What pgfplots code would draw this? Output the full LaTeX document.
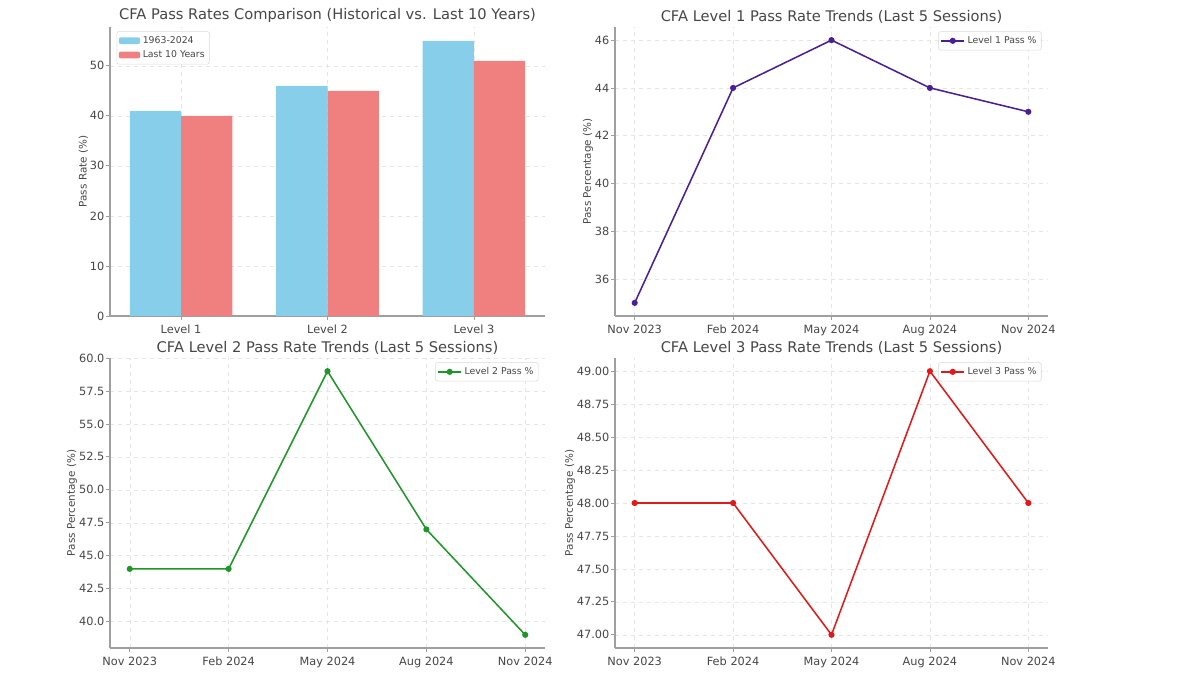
\documentclass[border=0pt]{standalone}
\usepackage{pgfplots}
\pgfplotsset{compat=1.18}
\usepackage{fontspec}
\setmainfont{DejaVu Sans}

\definecolor{skyb}{RGB}{135,206,235}
\definecolor{lcoral}{RGB}{240,128,128}
\definecolor{lvlone}{RGB}{75,30,150}
\definecolor{lvltwo}{RGB}{30,150,40}
\definecolor{lvlthree}{RGB}{225,25,25}
\definecolor{txt}{RGB}{70,70,70}

\pgfplotsset{
  panel/.style={
    scale only axis,
    anchor=south west,
    axis lines*=left,
    axis line style={-, draw=gray!75, line width=0.8pt},
    tick align=outside,
    major tick length=3pt,
    tick style={gray!75, line width=0.6pt},
    xtick pos=bottom, ytick pos=left,
    grid=major,
    major grid style={gray!20, dashed, line width=0.4pt},
    /pgf/number format/assume math mode=true,
    tick label style={font=\fontsize{8.5}{10}\selectfont, text=txt},
    yticklabel style={inner xsep=1pt},
    label style={font=\fontsize{7.8}{9}\selectfont, text=txt},
    ylabel style={yshift=-3pt},
    title style={font=\fontsize{11}{13}\selectfont, text=txt, yshift=-6.5pt},
    legend style={draw=gray!30, rounded corners=1.5pt, fill=white,
      font=\fontsize{7}{8.5}\selectfont, text=txt,
      at={(0.985,0.985)}, anchor=north east, inner sep=1.5pt},
    legend cell align=left,
  },
  trend/.style={
    xmin=-0.2, xmax=4.2,
    xtick={0,1,2,3,4},
    xticklabels={Nov 2023, Feb 2024, May 2024, Aug 2024, Nov 2024},
    ylabel={Pass Percentage (\%)},
  },
}

\begin{document}
\begin{tikzpicture}
\path[use as bounding box] (0,0) rectangle (900pt,506.25pt);

% Top left: bar comparison
\begin{axis}[panel,
  at={(82.5pt,269.25pt)}, width=326.25pt, height=216.75pt,
  title={CFA Pass Rates Comparison (Historical vs. Last 10 Years)},
  ylabel={Pass Rate (\%)},
  xmin=-0.485, xmax=2.485, ymin=0, ymax=57.75,
  xtick={0,1,2}, xticklabels={Level 1, Level 2, Level 3},
  ytick={0,10,20,30,40,50},
  legend style={at={(0.015,0.985)}, anchor=north west},
  legend image code/.code={\fill[#1] (0pt,-2.5pt) rectangle (16pt,2.5pt);},
]
\addplot[ybar, bar width=0.35, bar shift=-0.175, fill=skyb, draw=none]
  coordinates {(0,41) (1,46) (2,55)};
\addlegendentry{1963-2024}
\addplot[ybar, bar width=0.35, bar shift=0.175, fill=lcoral, draw=none]
  coordinates {(0,40) (1,45) (2,51)};
\addlegendentry{Last 10 Years}
\end{axis}

% Top right: Level 1
\begin{axis}[panel, trend,
  at={(461.25pt,269.25pt)}, width=324.75pt, height=216.75pt,
  title={CFA Level 1 Pass Rate Trends (Last 5 Sessions)},
  ymin=34.45, ymax=46.55,
  ytick={36,38,40,42,44,46},
]
\addplot[lvlone, line width=1.15pt, mark=*, mark size=1.7pt]
  coordinates {(0,35) (1,44) (2,46) (3,44) (4,43)};
\addlegendentry{Level 1 Pass \%}
\end{axis}

% Bottom left: Level 2
\begin{axis}[panel, trend,
  at={(82.5pt,20.25pt)}, width=326.25pt, height=217.5pt,
  title={CFA Level 2 Pass Rate Trends (Last 5 Sessions)},
  ymin=38, ymax=60,
  ytick={40,42.5,45,47.5,50,52.5,55,57.5,60},
  yticklabel style={/pgf/number format/.cd, fixed, fixed zerofill, precision=1},
]
\addplot[lvltwo, line width=1.15pt, mark=*, mark size=1.7pt]
  coordinates {(0,44) (1,44) (2,59) (3,47) (4,39)};
\addlegendentry{Level 2 Pass \%}
\end{axis}

% Bottom right: Level 3
\begin{axis}[panel, trend,
  at={(461.25pt,20.25pt)}, width=324.75pt, height=217.5pt,
  title={CFA Level 3 Pass Rate Trends (Last 5 Sessions)},
  ymin=46.9, ymax=49.1,
  ytick={47,47.25,47.5,47.75,48,48.25,48.5,48.75,49},
  yticklabel style={/pgf/number format/.cd, fixed, fixed zerofill, precision=2},
]
\addplot[lvlthree, line width=1.15pt, mark=*, mark size=1.7pt]
  coordinates {(0,48) (1,48) (2,47) (3,49) (4,48)};
\addlegendentry{Level 3 Pass \%}
\end{axis}
\end{tikzpicture}
\end{document}
